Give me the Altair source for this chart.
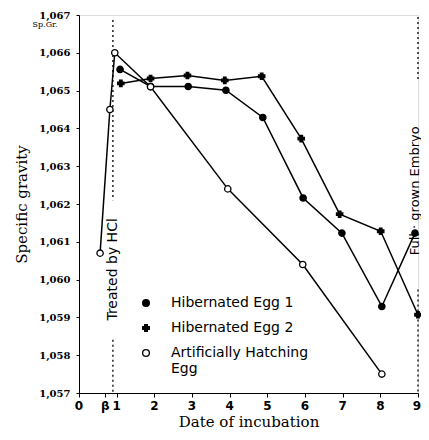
import altair as alt
import pandas as pd

# ---- data ----
series_names = ["Hibernated Egg 1", "Hibernated Egg 2", "Artificially Hatching Egg"]

days_egg1 = [1.09, 1.9, 2.9, 3.9, 4.88, 5.95, 6.98, 8.04, 8.92]
sg_egg1 = [1.06556, 1.06511, 1.06511, 1.06501, 1.06429, 1.06216, 1.06123, 1.05929, 1.06123]

days_egg2 = [1.11, 1.9, 2.88, 3.87, 4.85, 5.9, 6.92, 8.01, 9.0]
sg_egg2 = [1.06519, 1.06532, 1.0654, 1.06527, 1.06538, 1.06373, 1.06173, 1.06128, 1.05907]

days_art = [0.56, 0.82, 0.95, 1.9, 3.95, 5.94, 8.04]
sg_art = [1.0607, 1.0645, 1.0660, 1.0651, 1.0624, 1.0604, 1.0575]

x_tick_values = [0, 0.7, 1, 2, 3, 4, 5, 6, 7, 8, 9]
x_tick_labels = ["0", "β", "1", "2", "3", "4", "5", "6", "7", "8", "9"]
y_tick_values = [1.057, 1.058, 1.059, 1.060, 1.061, 1.062, 1.063, 1.064, 1.065, 1.066, 1.067]

# annotation guide lines (day, from, to)
guide_x = [0.9, 0.9, 9.0, 9.0]
guide_y1 = [1.06687, 1.05841, 1.06695, 1.05974]
guide_y2 = [1.0621, 1.057, 1.06527, 1.057]

left_note = ["Treated by HCl"]
left_note_x = [0.9]
left_note_y = [1.06027]
right_note = ["Full · grown  Embryo"]
right_note_x = [9.0]
right_note_y = [1.06235]

rows = []
for name, xs, ys in zip(series_names, [days_egg1, days_egg2, days_art], [sg_egg1, sg_egg2, sg_art]):
    for i, (a, b) in enumerate(zip(xs, ys)):
        rows.append({"series": name, "day": a, "sg": b, "order": i})
df = pd.DataFrame(rows)

guides = pd.DataFrame({"day": guide_x, "y1": guide_y1, "y2": guide_y2})
lnote = pd.DataFrame({"text": left_note, "day": left_note_x, "sg": left_note_y})
rnote = pd.DataFrame({"text": right_note, "day": right_note_x, "sg": right_note_y})
xlabels = pd.DataFrame({"text": x_tick_labels[:-1], "day": x_tick_values[:-1]})
xlabel_last = pd.DataFrame({"text": x_tick_labels[-1:], "day": x_tick_values[-1:]})

xscale = alt.Scale(domain=[0, 9], nice=False, zero=False)
yscale = alt.Scale(domain=[1.057, 1.067], nice=False, zero=False)

x_axis = alt.Axis(
    values=x_tick_values, labels=False,
    grid=False, domainColor="black", tickColor="black", tickSize=4,
    title="Date of incubation", titleFont="DejaVu Serif", titleFontSize=15,
    titleFontWeight="normal", titleColor="black", titlePadding=17,
)
y_axis = alt.Axis(
    values=y_tick_values,
    format=".3f", labelOverlap=False, labelFlush=False,
    labelExpr="replace(datum.label, '.', ',')",
    grid=False, domainColor="black", tickColor="black", tickSize=3,
    labelFont="DejaVu Serif", labelFontSize=10, labelFontWeight="bold", labelColor="black",
    labelPadding=6,
    title="Specific gravity", titleFont="DejaVu Serif", titleFontSize=15,
    titleFontWeight="normal", titleColor="black", titlePadding=9,
)

base = alt.Chart(df)

lines = base.mark_line(color="black", strokeWidth=1.5).encode(
    x=alt.X("day:Q", scale=xscale, axis=x_axis),
    y=alt.Y("sg:Q", scale=yscale, axis=y_axis),
    detail="series:N",
    order="order:Q",
)

legend = alt.Legend(
    orient="none", legendX=60, legendY=281, title=None,
    labelFont="DejaVu Sans", labelFontSize=14, labelColor="black",
    labelOffset=18, rowPadding=11, symbolSize=45,
    symbolStrokeColor="black", symbolStrokeWidth=1.3,
    labelExpr="datum.label == 'Artificially Hatching Egg' ? ['Artificially Hatching', 'Egg'] : datum.label",
    labelLimit=300,
)

points = base.mark_point(filled=True, strokeWidth=1.3, size=40, opacity=1).encode(
    x=alt.X("day:Q", axis=x_axis),
    y=alt.Y("sg:Q", axis=y_axis),
    shape=alt.Shape("series:N", scale=alt.Scale(domain=series_names, range=["circle", "cross", "circle"]), legend=legend),
    fill=alt.Fill("series:N", scale=alt.Scale(domain=series_names, range=["black", "black", "white"]), legend=legend),
    stroke=alt.Stroke("series:N", scale=alt.Scale(domain=series_names, range=["black", "black", "black"]), legend=legend),
)

guide_rules = alt.Chart(guides).mark_rule(color="black", strokeDash=[2, 3], strokeWidth=1.3).encode(
    x=alt.X("day:Q", axis=x_axis), y=alt.Y("y1:Q", axis=y_axis), y2="y2:Q"
)

lnote_mark = alt.Chart(lnote).mark_text(
    angle=270, font="DejaVu Sans", fontSize=14, color="black", align="center", baseline="middle"
).encode(x=alt.X("day:Q", axis=x_axis), y=alt.Y("sg:Q", axis=y_axis), text="text:N")

rnote_mark = alt.Chart(rnote).mark_text(
    angle=270, font="DejaVu Sans", fontSize=13, color="black", align="center", baseline="middle", dy=-3
).encode(x=alt.X("day:Q", axis=x_axis), y=alt.Y("sg:Q", axis=y_axis), text="text:N")

xlab_mark = alt.Chart(xlabels).mark_text(
    font="DejaVu Sans", fontSize=12, fontWeight="bold", color="black", align="center", baseline="top"
).encode(x=alt.X("day:Q", axis=x_axis), y=alt.value(386), text="text:N")

xlab_last_mark = alt.Chart(xlabel_last).mark_text(
    font="DejaVu Sans", fontSize=12, fontWeight="bold", color="black", align="right", baseline="top", dx=3
).encode(x=alt.X("day:Q", axis=x_axis), y=alt.value(386), text="text:N")

spgr = alt.Chart(pd.DataFrame({"t": ["Sp.Gr."]})).mark_text(
    font="DejaVu Serif", fontSize=8, color="black", align="center"
).encode(x=alt.value(-34), y=alt.value(10), text="t:N")

chart = alt.layer(lines, guide_rules, lnote_mark, rnote_mark, points, xlab_mark, xlab_last_mark, spgr).properties(
    width=339, height=378,
    autosize=alt.AutoSizeParams(type="none"),
    padding={"left": 71, "top": 7, "right": 3, "bottom": 39},
).configure_view(stroke=None).configure_axis(labelOverlap=False).configure(background="white")

chart.save("out.html", embed_options={"renderer": "svg", "actions": False})
